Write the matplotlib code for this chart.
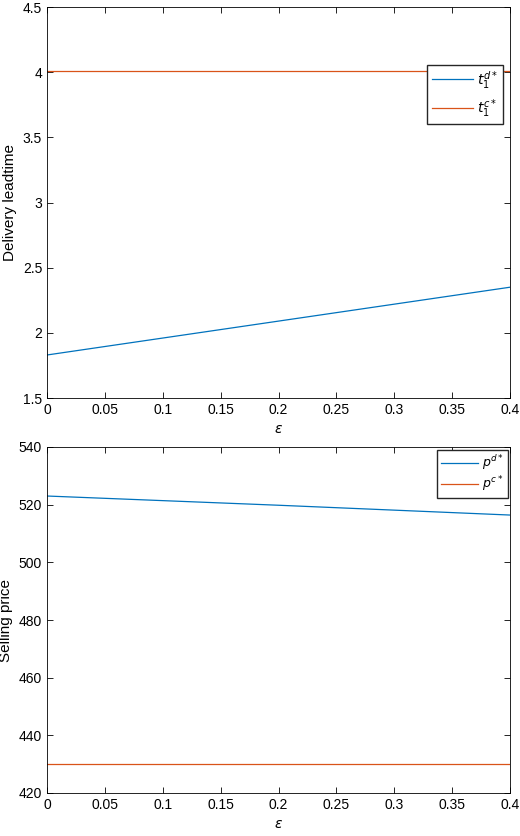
import matplotlib
matplotlib.use("Agg")
import matplotlib.pyplot as plt
import numpy as np

eps = [0.0, 0.1, 0.2, 0.3, 0.4]
t_d = [1.83, 1.96, 2.09, 2.22, 2.35]
t_c = [4.01, 4.01, 4.01, 4.01, 4.01]
p_d = [523.0, 521.4, 519.8, 518.1, 516.4]
p_c = [430.0, 430.0, 430.0, 430.0, 430.0]

blue = '#0072BD'
orange = '#D95319'
plt.rcParams['font.family'] = ['Liberation Sans', 'DejaVu Sans']
plt.rcParams['font.size'] = 10
plt.rcParams['mathtext.fontset'] = 'dejavusans'

fig = plt.figure(figsize=(5.2, 8.36), dpi=100)
ax1 = fig.add_axes([47/520, 1-398/836, 463/520, 391/836])
ax2 = fig.add_axes([47/520, 1-793/836, 463/520, 346/836])

def style(ax):
    ax.tick_params(direction='in', top=True, right=True, length=4, width=0.6)
    for s in ax.spines.values():
        s.set_linewidth(0.6)
    ax.set_xlim(0, 0.4)
    ax.set_xticks(np.arange(0, 0.401, 0.05))
    ax.set_xticklabels(['0', '0.05', '0.1', '0.15', '0.2', '0.25', '0.3', '0.35', '0.4'])
    ax.set_xlabel(r'$\epsilon$')

ax1.plot(eps, t_d, color=blue, lw=0.9, label=r'$t_1^{d*}$')
ax1.plot(eps, t_c, color=orange, lw=0.9, label=r'$t_1^{c*}$')
ax1.set_ylim(1.5, 4.5)
ax1.set_yticks([1.5, 2, 2.5, 3, 3.5, 4, 4.5])
ax1.set_yticklabels(['1.5', '2', '2.5', '3', '3.5', '4', '4.5'])
ax1.set_ylabel('Delivery leadtime', fontsize=11)
style(ax1)
ax1.legend(loc='upper right', bbox_to_anchor=(0.99, 0.86), fancybox=False,
           edgecolor='#262626', fontsize=10, handlelength=3.0, framealpha=1,
           borderaxespad=0.2, handletextpad=0.3, borderpad=0.3)

ax2.plot(eps, p_d, color=blue, lw=0.9, label=r'$p^{d*}$')
ax2.plot(eps, p_c, color=orange, lw=0.9, label=r'$p^{c*}$')
ax2.set_ylim(420, 540)
ax2.set_yticks(range(420, 541, 20))
ax2.set_ylabel('Selling price', fontsize=11)
style(ax2)
ax2.legend(loc='upper right', fancybox=False, edgecolor='#262626',
           fontsize=9, handlelength=3.0, framealpha=1, borderaxespad=0.2,
           handletextpad=0.3, borderpad=0.3, labelspacing=0.2)

fig.savefig('out.png', dpi=100)
